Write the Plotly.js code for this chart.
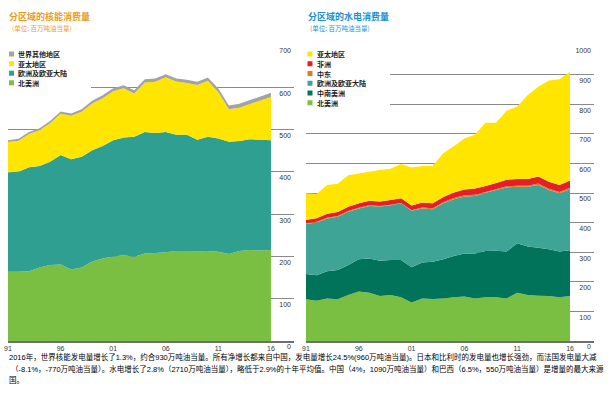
<!DOCTYPE html>
<html><head><meta charset="utf-8">
<script src="https://cdn.plot.ly/plotly-3.0.1.min.js"></script>
<style>html,body{margin:0;padding:0;background:#fff}#chart{width:611px;height:393px}</style>
</head><body><div id="chart"></div>
<script>
// ---------- data ----------
const years = [1991,1992,1993,1994,1995,1996,1997,1998,1999,2000,2001,2002,2003,2004,2005,2006,2007,2008,2009,2010,2011,2012,2013,2014,2015,2016];

// Nuclear consumption by region (Mtoe)
const nucNames = ['北美洲','欧洲及欧亚大陆','亚太地区','世界其他地区'];
const nucColors = ['#7bbf42','#2f9f92','#ffe500','#a3a3a3'];
const nucNorthAmerica = [164,164,165,174,180,181,169,174,188,195,200,203,199,207,208,210,213,213,212,213,211,206,213,215,214,215];
const nucEurope = [235,236,246,240,244,259,261,262,263,266,275,278,284,287,284,284,275,275,264,270,268,265,260,262,262,260];
const nucAsiaPacific = [71.5,73.5,78.4,84.2,91,97.5,102.5,106,110.5,113,115.5,116.5,102.5,117.5,121.3,129.5,125.4,122.2,129.5,132.3,109.5,77,78.5,83.5,92.5,102];
const nucRestOfWorld = [4.5,4.5,4.6,4.8,5,5.5,5.5,6,6.5,7,7.5,7.5,7.5,7.5,7.7,7.5,7.6,7.8,7.5,7.7,8.5,9,9.5,9.5,9.5,10];

// Hydro consumption by region (Mtoe)
const hydNames = ['北美洲','中南美洲','欧洲及欧亚大陆','中东','非洲','亚太地区'];
const hydColors = ['#7bbf42','#00735a','#3ea596','#e8771f','#e3202a','#ffe500'];
const hydNorthAmerica = [141,136,144,141,155,167,163,152,155,148,130,144,142,144,148,150,144,148,148,144,163,155,153,152,148,152];
const hydSouthCentralAmerica = [85,86,92,99,102,109,116,119,119,126,119,121,126,132,139,146,152,156,157,158,167,164,162,158,154,155];
const hydEurope = [169,178,178,180,180,172,177,183,185,191,191,183,177,189,192,192,194,197,205,217,191,202,212,200,197,206];
const hydMiddleEast = [2.5,2.5,2.5,2.5,2.5,2.5,2.5,2.5,1.5,1.5,2,3,3.5,4,4,4.5,4,2,2.5,4,3.5,3.5,5,4,4,4.5];
const hydAfrica = [12.5,12.5,13,13.5,14,14.5,15,15,15.5,15.5,16,16.5,17,17.5,18.5,19,21,21,21.5,22,22.5,23,24,24,24,24.5];
const hydAsiaPacific = [89,82,97.5,95,106.5,101,98.5,106.5,106,116,128,123.5,126.5,147.5,156.5,172.5,183,213,203,233,245,283.5,303,342,357,368];

const xTickVals = [1991,1996,2001,2006,2011,2016];
const xTickText = ['91','96','01','06','11','16'];
const nucTicks = [0,100,200,300,400,500,600,700];
const hydTicks = [0,100,200,300,400,500,600,700,800,900,1000];

const titleNuc = '分区域的核能消费量';
const titleHyd = '分区域的水电消费量';
const unitText = '(单位: 百万吨油当量)';
const noteLines = [
 '2016年，世界核能发电量增长了1.3%，约合930万吨油当量。所有净增长都来自中国，发电量增长24.5%(960万吨油当量)。日本和比利时的发电量也增长强劲，而法国发电量大减',
 '（-8.1%，-770万吨油当量）。水电增长了2.8%（2710万吨油当量），略低于2.9%的十年平均值。中国（4%，1090万吨油当量）和巴西（6.5%，550万吨油当量）是增量的最大来源',
 '国。'
];

// ---------- layout helpers ----------
const W = 611, H = 393;
const TOP = 45;      // pixel row of the top gridline
const ZERO = 341;    // pixel row of the zero line
const PB = 356;      // bottom of the plotting area (a little below zero so the "0" label fits)
const px = x => x / W;
const py = y => (PB - y) / (PB - TOP);
const FONT = 'Liberation Sans, Arial, Noto Sans CJK SC, sans-serif';
const CJK = 'Noto Sans CJK SC, sans-serif';
const yMin = top => -top * (PB - ZERO) / (ZERO - TOP);

const nucSeries = [nucNorthAmerica, nucEurope, nucAsiaPacific, nucRestOfWorld];
const hydSeries = [hydNorthAmerica, hydSouthCentralAmerica, hydEurope, hydMiddleEast, hydAfrica, hydAsiaPacific];

const traces = [];
nucSeries.forEach((s, i) => traces.push({
  x: years, y: s, name: nucNames[i], type: 'scatter', mode: 'none',
  stackgroup: 'nuc', fillcolor: nucColors[i], line: {width: 0},
  xaxis: 'x', yaxis: 'y', showlegend: false, hoverinfo: 'skip'
}));
hydSeries.forEach((s, i) => traces.push({
  x: years, y: s, name: hydNames[i], type: 'scatter', mode: 'none',
  stackgroup: 'hyd', fillcolor: hydColors[i], line: {width: 0},
  xaxis: 'x2', yaxis: 'y2', showlegend: false, hoverinfo: 'skip'
}));

const xCommon = {
  tickvals: xTickVals, ticktext: xTickText, showgrid: false, zeroline: false,
  showline: true, linecolor: '#6f6f6f', linewidth: 1.5,
  ticks: '', tickfont: {size: 7, color: '#333', family: FONT}, fixedrange: true,
  anchor: 'free', position: py(ZERO)
};
const yCommon = {
  side: 'right', ticklabelposition: 'inside', ticks: '', showline: false, zeroline: false,
  gridcolor: '#8a8a8a', gridwidth: 1, tickfont: {size: 7, color: '#333', family: FONT},
  ticklabelshift: 6, ticklabeloverflow: 'allow', fixedrange: true
};

const shapes = [], annotations = [];
// legend backgrounds (cover gridlines like the original)
shapes.push({type:'rect', xref:'paper', yref:'paper', x0:px(8), x1:px(91), y0:py(89), y1:py(47), fillcolor:'#fff', line:{width:0}, layer:'above'});
shapes.push({type:'rect', xref:'paper', yref:'paper', x0:px(306), x1:px(390), y0:py(108), y1:py(47), fillcolor:'#fff', line:{width:0}, layer:'above'});

function legend(names, colors, x0, yStart, step) {
  const n = names.length;
  for (let k = 0; k < n; k++) {
    const i = n - 1 - k;
    const yc = yStart + k * step;
    shapes.push({type:'rect', xref:'paper', yref:'paper', x0:px(x0), x1:px(x0+5), y0:py(yc+2.5), y1:py(yc-2.5), fillcolor:colors[i], line:{width:0}, layer:'above'});
    annotations.push({xref:'paper', yref:'paper', x:px(x0+8), y:py(yc), xanchor:'left', yanchor:'middle', showarrow:false, borderpad:0,
      text:'<b>'+names[i]+'</b>', font:{size:7, color:'#222', family:CJK}});
  }
}
legend(nucNames, nucColors, 9, 54, 9.6);
legend(hydNames, hydColors, 307.5, 54, 9.75);

// titles
annotations.push({xref:'paper', yref:'paper', x:px(8), y:py(16), xanchor:'left', yanchor:'middle', showarrow:false, borderpad:0,
  text:'<b>'+titleNuc+'</b>', font:{size:9, color:'#ee9a1d', family:CJK}});
annotations.push({xref:'paper', yref:'paper', x:px(11), y:py(27.5), xanchor:'left', yanchor:'middle', showarrow:false, borderpad:0,
  text:unitText, font:{size:6.5, color:'#ee9a1d', family:CJK}});
annotations.push({xref:'paper', yref:'paper', x:px(307), y:py(16), xanchor:'left', yanchor:'middle', showarrow:false, borderpad:0,
  text:'<b>'+titleHyd+'</b>', font:{size:9, color:'#1b8fcf', family:CJK}});
annotations.push({xref:'paper', yref:'paper', x:px(309), y:py(27.5), xanchor:'left', yanchor:'middle', showarrow:false, borderpad:0,
  text:unitText, font:{size:6.5, color:'#1b8fcf', family:CJK}});

// bottom note
const noteY = [357, 368.5, 380];
const noteX = [8, 10, 8];
noteLines.forEach((t, i) => annotations.push({xref:'paper', yref:'paper', x:px(noteX[i]), y:py(noteY[i]), borderpad:0,
  xanchor:'left', yanchor:'middle', showarrow:false, text:t, font:{size:7.5, color:'#000', family:FONT}}));

const layout = {
  width: W, height: H, margin: {l:0, r:0, t:TOP, b:H-PB},
  paper_bgcolor: '#fff', plot_bgcolor: 'rgba(0,0,0,0)', showlegend: false,
  font: {family: FONT},
  xaxis: Object.assign({}, xCommon, {domain:[px(8), px(294)], range:[1991, 2018.19]}),
  yaxis: Object.assign({}, yCommon, {range:[yMin(700),700], tickvals: nucTicks, anchor:'x'}),
  xaxis2: Object.assign({}, xCommon, {domain:[px(306), px(594)], range:[1991, 2018.27]}),
  yaxis2: Object.assign({}, yCommon, {range:[yMin(1000),1000], tickvals: hydTicks, anchor:'x2'}),
  shapes: shapes, annotations: annotations
};

Plotly.newPlot('chart', traces, layout, {staticPlot: true, displayModeBar: false});
</script>
</body></html>
